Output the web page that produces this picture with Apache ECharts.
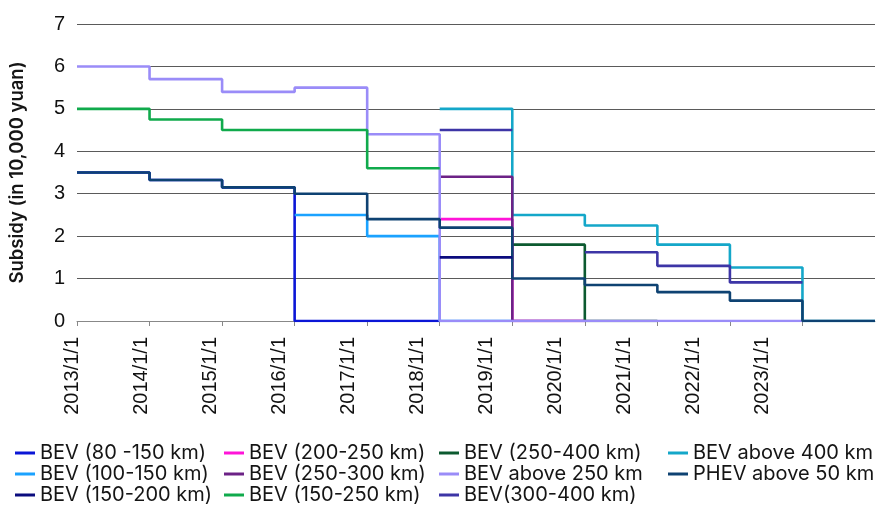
<!DOCTYPE html>
<html>
<head>
<meta charset="utf-8">
<script src="https://cdn.jsdelivr.net/npm/echarts@6/dist/echarts.min.js"></script>
<style>
  html, body { margin: 0; padding: 0; background: #fff; }
  #chart { width: 877px; height: 507px; }
</style>
</head>
<body>
<div id="chart"></div>
<script>
// years on the axis (each value holds from that year until the next)
const years = ['2013/1/1', '2014/1/1', '2015/1/1', '2016/1/1', '2017/1/1', '2018/1/1',
  '2019/1/1', '2020/1/1', '2021/1/1', '2022/1/1', '2023/1/1'];

// subsidy per year, 10,000 yuan (null = no such category that year)
const bev80_150   = [3.5, 3.325, 3.15, 0, 0, null, null, null, null, null, null];
const bev200_250  = [null, null, null, null, null, 2.4, 0, null, null, null, null];
const bev250_400  = [null, null, null, null, null, null, 1.8, 0, null, null, null];
const bevAbove400 = [null, null, null, null, null, 5.0, 2.5, 2.25, 1.8, 1.26, 0];
const bev100_150  = [null, null, null, 2.5, 2.0, 0, null, null, null, null, null];
const bev250_300  = [null, null, null, null, null, 3.4, 0, null, null, null, null];
const bevAbove250 = [6.0, 5.7, 5.4, 5.5, 4.4, 0, 0, 0, 0, 0, null];
const phevAbove50 = [3.5, 3.325, 3.15, 3.0, 2.4, 2.2, 1.0, 0.85, 0.68, 0.48, 0];
const bev150_200  = [null, null, null, null, null, 1.5, null, null, null, null, null];
const bev150_250  = [5.0, 4.75, 4.5, 4.5, 3.6, null, null, null, null, null, null];
const bev300_400  = [null, null, null, null, null, 4.5, null, 1.62, 1.3, 0.91, null];

const seriesList = [
  { name: 'BEV (80 -150 km)', data: bev80_150, color: '#0b16d6' },
  { name: 'BEV (200-250 km)', data: bev200_250, color: '#ff14d8' },
  { name: 'BEV (250-400 km)', data: bev250_400, color: '#0c5a30' },
  { name: 'BEV above 400 km', data: bevAbove400, color: '#14a7c9' },
  { name: 'BEV (100-150 km)', data: bev100_150, color: '#1ba2ff' },
  { name: 'BEV (250-300 km)', data: bev250_300, color: '#6c2286' },
  { name: 'BEV above 250 km', data: bevAbove250, color: '#9a8cf8' },
  { name: 'PHEV above 50 km', data: phevAbove50, color: '#0e4272' },
  { name: 'BEV (150-200 km)', data: bev150_200, color: '#0b0c7e' },
  { name: 'BEV (150-250 km)', data: bev150_250, color: '#10aa4c' },
  { name: 'BEV(300-400 km)', data: bev300_400, color: '#3d35a6' }
];

// turn yearly values into step points: each value runs to the next year,
// gaps between runs become breaks in the line
function toSteps(vals) {
  const pts = [];
  for (let i = 0; i < vals.length; i++) {
    if (vals[i] == null) continue;
    pts.push([i, vals[i]]);
    if (i === vals.length - 1 || vals[i + 1] == null) {
      pts.push([i + 1, vals[i]]);
      pts.push([i + 1, null]);
    }
  }
  return pts;
}

const legendCols = [
  ['BEV (80 -150 km)', 'BEV (100-150 km)', 'BEV (150-200 km)'],
  ['BEV (200-250 km)', 'BEV (250-300 km)', 'BEV (150-250 km)'],
  ['BEV (250-400 km)', 'BEV above 250 km', 'BEV(300-400 km)'],
  ['BEV above 400 km', 'PHEV above 50 km']
];
const legendLeft = [15, 224, 439, 668];

const chart = echarts.init(document.getElementById('chart'));

const option = {
  animation: false,
  backgroundColor: '#fff',
  grid: [
    { left: 75, right: 2, top: 24, bottom: 186 },
    // only used to place the year labels
    { left: 72, width: 690, top: 24, bottom: 186 }
  ],
  legend: legendCols.map((col, k) => ({
    orient: 'vertical',
    left: legendLeft[k],
    top: 443,
    padding: 0,
    data: col,
    icon: 'rect',
    itemWidth: 20,
    itemHeight: 3,
    itemGap: 1,
    selectedMode: false,
    textStyle: { fontFamily: 'Inter', fontSize: 20, color: '#151515', lineHeight: 20 }
  })),
  xAxis: [
    {
      type: 'value',
      gridIndex: 0,
      min: 0,
      max: 11,
      interval: 1,
      axisLine: { show: true, lineStyle: { color: '#888', width: 1 } },
      axisTick: { show: true, length: 5, lineStyle: { color: '#888' }, customValues: [0, 1, 2, 3, 4, 5, 6, 7, 8, 9, 10] },
      axisLabel: { show: false },
      splitLine: { show: false }
    },
    {
      type: 'value',
      gridIndex: 1,
      min: 0,
      max: 10,
      interval: 1,
      axisLine: { show: false },
      axisTick: { show: false },
      splitLine: { show: false },
      axisLabel: {
        rotate: 90,
        margin: 16,
        fontFamily: 'Liberation Sans',
        fontSize: 20,
        color: '#111',
        formatter: v => years[v] || ''
      }
    }
  ],
  yAxis: [
    {
      type: 'value',
      gridIndex: 0,
      min: 0,
      max: 7,
      interval: 1,
      name: 'Subsidy (in 10,000 yuan)',
      nameLocation: 'middle',
      nameRotate: 90,
      nameGap: 50,
      nameTextStyle: { fontFamily: 'Inter', fontSize: 18.5, fontWeight: 600, color: '#151515' },
      axisLine: { show: false },
      axisTick: { show: false },
      axisLabel: { margin: 12, fontFamily: 'Liberation Sans', fontSize: 20, color: '#111' },
      splitLine: { lineStyle: { color: '#5a5a5a', width: 1 } }
    },
    { type: 'value', gridIndex: 1, min: 0, max: 7, show: false }
  ],
  series: seriesList.map(s => ({
    name: s.name,
    type: 'line',
    xAxisIndex: 0,
    yAxisIndex: 0,
    step: 'end',
    showSymbol: false,
    symbol: 'none',
    color: s.color,
    lineStyle: { color: s.color, width: 2.6 },
    data: toSteps(s.data)
  }))
};

chart.setOption(option);
</script>
</body>
</html>
